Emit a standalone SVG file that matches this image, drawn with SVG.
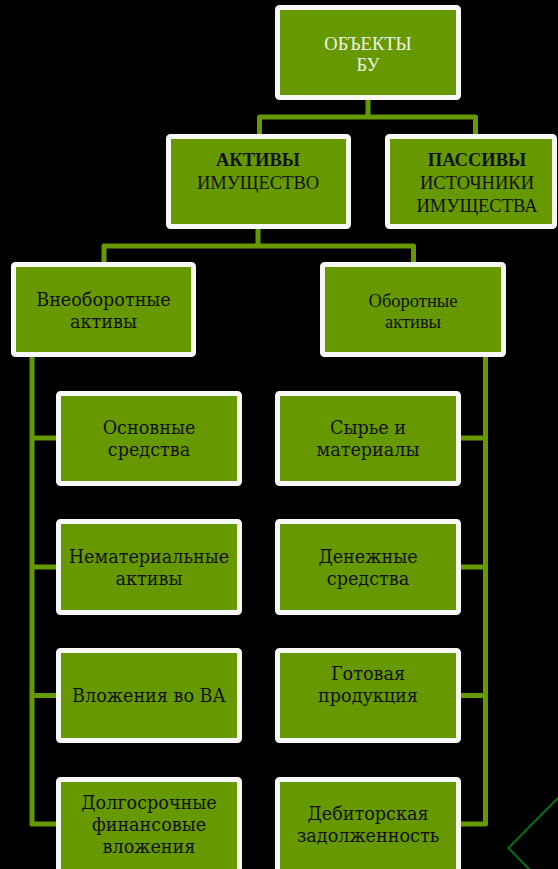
<svg xmlns="http://www.w3.org/2000/svg" width="558" height="869" viewBox="0 0 558 869">
<style>
.box{fill:#669900;stroke:#f7f7f7;stroke-width:5}
.c{fill:none;stroke:#669900;stroke-width:5;stroke-linejoin:round}
.t{font-family:"Liberation Serif",serif;font-size:18.5px;fill:#111;text-anchor:middle}
.w{fill:#eef3e6}
.b{font-weight:bold}
.d{font-family:"DejaVu Serif",serif;font-size:17.6px;fill:#111;text-anchor:middle}
</style>
<rect width="558" height="869" fill="#000"/>
<g id="connectors">
<path class="c" d="M368,100 V117 M259.5,134 V117 H475.5 V134"/>
<path class="c" d="M258,229 V246 M104,262 V246 H413.5 V262"/>
<path class="c" d="M32,357 V824 H56 M32,438 H56 M32,567 H56 M32,695.5 H56"/>
<path class="c" d="M485.5,357 V824 H461 M485.5,438 H461 M485.5,567 H461 M485.5,695.5 H461"/>
</g>
<g id="n-objects"><rect class="box" x="277.5" y="7.5" width="181" height="90" rx="2"/>
<text class="t w" x="368" y="50">ОБЪЕКТЫ</text><text class="t w" x="368" y="71">БУ</text></g>
<g id="n-aktivy"><rect class="box" x="168.5" y="136.5" width="180" height="90" rx="2"/>
<text class="t b" x="258" y="166">АКТИВЫ</text><text class="t" x="258" y="189">ИМУЩЕСТВО</text></g>
<g id="n-passivy"><rect class="box" x="387.5" y="136.5" width="167" height="90" rx="2"/>
<text class="t b" x="477" y="166">ПАССИВЫ</text><text class="t" x="477" y="189">ИСТОЧНИКИ</text><text class="t" x="477" y="212">ИМУЩЕСТВА</text></g>
<g id="n-vneob"><rect class="box" x="13.5" y="264.5" width="180" height="90" rx="2"/>
<text class="d" x="103.5" y="306">Внеоборотные</text><text class="d" x="103.5" y="328">активы</text></g>
<g id="n-ob"><rect class="box" x="322.5" y="264.5" width="181" height="90" rx="2"/>
<text class="t" x="413" y="307">Оборотные</text><text class="t" x="413" y="328">активы</text></g>
<g id="n-os"><rect class="box" x="58.5" y="393.5" width="181" height="90" rx="2"/>
<text class="d" x="149" y="434">Основные</text><text class="d" x="149" y="456">средства</text></g>
<g id="n-nemat"><rect class="box" x="58.5" y="521.5" width="181" height="91" rx="2"/>
<text class="d" x="149" y="563">Нематериальные</text><text class="d" x="149" y="585">активы</text></g>
<g id="n-vlozh"><rect class="box" x="58.5" y="650.5" width="181" height="90" rx="2"/>
<text class="d" x="149" y="702">Вложения во ВА</text></g>
<g id="n-dolg"><rect class="box" x="58.5" y="779.5" width="181" height="92" rx="2"/>
<text class="d" x="149" y="809">Долгосрочные</text><text class="d" x="149" y="831">финансовые</text><text class="d" x="149" y="853">вложения</text></g>
<g id="n-syr"><rect class="box" x="277.5" y="393.5" width="181" height="90" rx="2"/>
<text class="d" x="368" y="434">Сырье и</text><text class="d" x="368" y="456">материалы</text></g>
<g id="n-den"><rect class="box" x="277.5" y="521.5" width="181" height="91" rx="2"/>
<text class="d" x="368" y="563">Денежные</text><text class="d" x="368" y="585">средства</text></g>
<g id="n-got"><rect class="box" x="277.5" y="650.5" width="181" height="90" rx="2"/>
<text class="d" x="368" y="680">Готовая</text><text class="d" x="368" y="702">продукция</text></g>
<g id="n-deb"><rect class="box" x="277.5" y="779.5" width="181" height="92" rx="2"/>
<text class="d" x="368" y="820">Дебиторская</text><text class="d" x="368" y="842">задолженность</text></g>
<path d="M562,794 L508.5,848 L532,872" fill="none" stroke="#0b6e12" stroke-width="2"/>
</svg>
